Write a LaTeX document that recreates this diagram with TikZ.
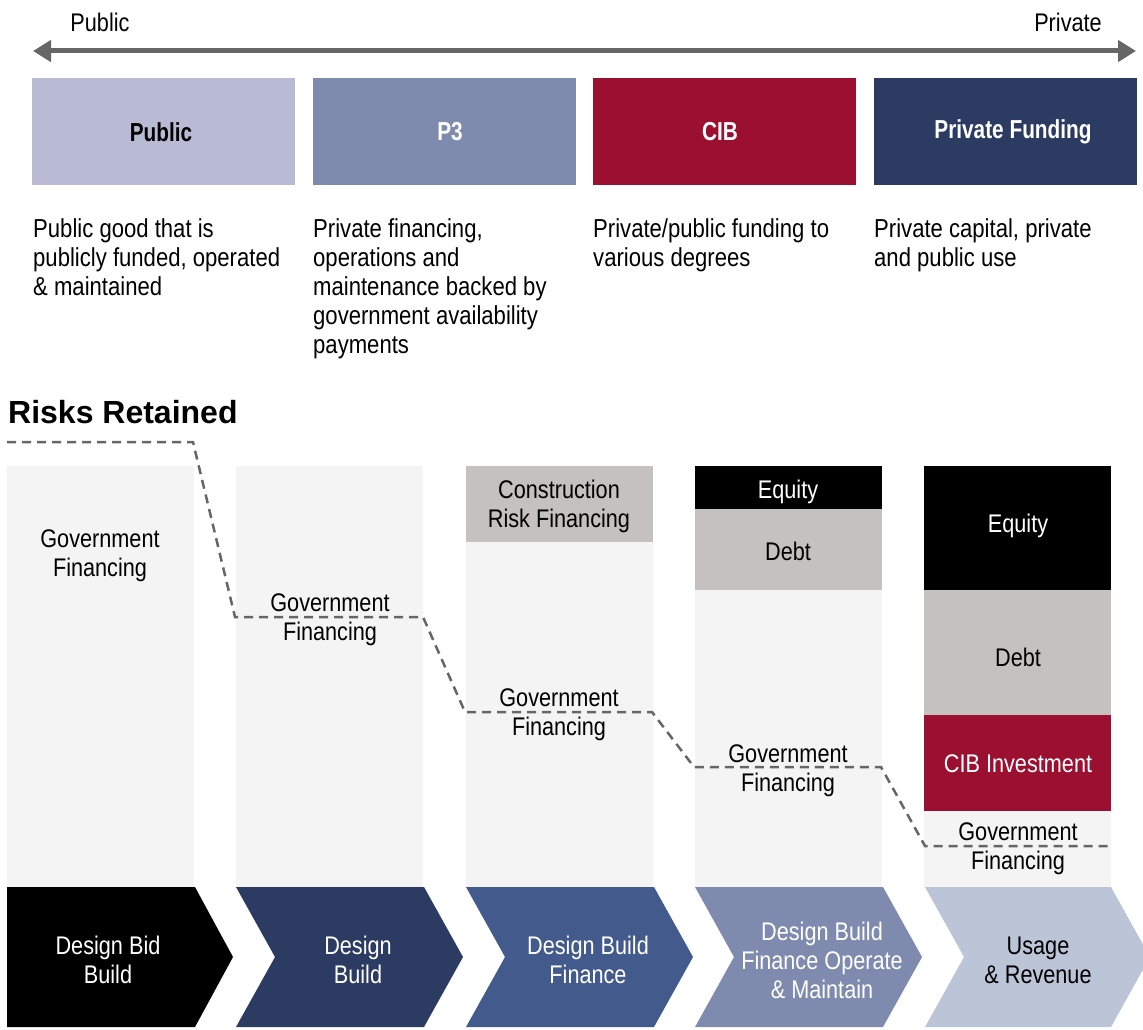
\documentclass[tikz,border=0pt]{standalone}
\usepackage{fontspec}
\setmainfont{Liberation Sans}[FakeStretch=0.85]
\newfontfamily\headfont{Liberation Sans}
\newfontfamily\bcond{Liberation Sans}[FakeStretch=0.8]
\usetikzlibrary{arrows.meta}
\definecolor{cPublic}{HTML}{B9BBD4}
\definecolor{cPthree}{HTML}{7F8BAE}
\definecolor{cCIB}{HTML}{9B1030}
\definecolor{cPriv}{HTML}{2B3B62}
\definecolor{cChevC}{HTML}{435A8C}
\definecolor{cChevE}{HTML}{BCC5D8}
\definecolor{cCol}{HTML}{F4F4F4}
\definecolor{cGrey}{HTML}{C4C1BE}
\definecolor{cLine}{HTML}{666666}
\tikzset{
  txt/.style={inner sep=0pt, align=center, font=\fontsize{25.5}{29}\selectfont},
  desc/.style={inner sep=0pt, align=left, anchor=north west, font=\fontsize{26}{29}\selectfont},
  boxlbl/.style={inner sep=0pt, font=\bcond\fontsize{26}{29}\selectfont\bfseries},
  topbox/.style={draw=none, minimum width=263pt, minimum height=107pt, inner sep=0pt},
  riskline/.style={draw=cLine, line width=2.5pt, dash pattern=on 9pt off 6pt},
}
\begin{document}
\begin{tikzpicture}[x=1pt,y=-1pt]
\useasboundingbox (0,0) rectangle (1143,1030);
% top scale arrow
\coordinate (aL) at (33,51);
\coordinate (aR) at (1136,51);
\draw[cLine, line width=5pt, {Triangle[length=18pt,width=21pt]}-{Triangle[length=18pt,width=21pt]}] (aL) -- (aR);
\node[txt] (lPub) at (100,22) {Public};
\node[txt] (lPriv) at (1068,22) {Private};
% top boxes
\node[topbox, fill=cPublic] (bPub) at (163.5,131.5) {};
\node[topbox, fill=cPthree] (bP3) at (444.5,131.5) {};
\node[topbox, fill=cCIB] (bCIB) at (724.5,131.5) {};
\node[topbox, fill=cPriv] (bPF) at (1005.5,131.5) {};
\node[boxlbl] (tPub) at (161,132) {Public};
\node[boxlbl, text=white] (tP3) at (450,132) {P3};
\node[boxlbl, text=white] (tCIB) at (720,132) {CIB};
\node[boxlbl, text=white] (tPF) at (1013,132) {Private Funding};
% descriptions
\node[desc] (d1) at (33,218) {Public good that is\\publicly funded, operated\\\& maintained};
\node[desc] (d2) at (313,218) {Private financing,\\operations and\\maintenance backed by\\government availability\\payments};
\node[desc] (d3) at (593,218) {Private/public funding to\\various degrees};
\node[desc] (d4) at (874,218) {Private capital, private\\and public use};
% heading
\node[inner sep=0pt, anchor=base west, font=\headfont\fontsize{32}{38}\selectfont\bfseries] (risk) at (8,423) {Risks Retained};
% columns
\fill[cCol] (7,466) rectangle (194,888);
\fill[cCol] (236,466) rectangle (423,888);
\fill[cCol] (466,466) rectangle (653,888);
\fill[cCol] (695,466) rectangle (882,888);
\fill[cCol] (924,466) rectangle (1111,888);
% col 3 block
\fill[cGrey] (466,466) rectangle (653,542);
% col 4 blocks
\fill[black] (695,466) rectangle (882,509);
\fill[cGrey] (695,509) rectangle (882,590);
% col 5 blocks
\fill[black] (924,466) rectangle (1111,590);
\fill[cGrey] (924,590) rectangle (1111,715);
\fill[cCIB] (924,715) rectangle (1111,811);
% dashed risk line
\coordinate (r0) at (7,442);
\coordinate (r1) at (193,442);
\coordinate (r2) at (235,617);
\coordinate (r3) at (423,617);
\coordinate (r4) at (465,712);
\coordinate (r5) at (652,712);
\coordinate (r6) at (694,767);
\coordinate (r7) at (881,767);
\coordinate (r8) at (925,846);
\coordinate (r9) at (1111,846);
\draw[riskline] (r0) -- (r1) -- (r2) -- (r3) -- (r4) -- (r5) -- (r6) -- (r7) -- (r8) -- (r9);
% column labels
\node[txt] (g1) at (100,556) {Government\\Financing};
\node[txt] (g2) at (330,620) {Government\\Financing};
\node[txt] (c3) at (559,506) {Construction\\Risk Financing};
\node[txt] (g3) at (559,715) {Government\\Financing};
\node[txt, text=white] (e4) at (788,492) {Equity};
\node[txt] (db4) at (788,551) {Debt};
\node[txt] (g4) at (788,771) {Government\\Financing};
\node[txt, text=white] (e5) at (1018,526) {Equity};
\node[txt] (db5) at (1018,657) {Debt};
\node[txt, text=white] (cib5) at (1018,764) {CIB Investment};
\node[txt] (g5) at (1018,849) {Government\\Financing};
% chevrons
\fill[black] (7,887) -- (195,887) -- (233,957) -- (195,1027) -- (7,1027) -- cycle;
\fill[cPriv] (236,887) -- (424,887) -- (463,957) -- (424,1027) -- (236,1027) -- (275,957) -- cycle;
\fill[cChevC] (466,887) -- (654,887) -- (693,957) -- (654,1027) -- (466,1027) -- (505,957) -- cycle;
\fill[cPthree] (695,887) -- (883,887) -- (922,957) -- (883,1027) -- (695,1027) -- (734,957) -- cycle;
\fill[cChevE] (925,887) -- (1111,887) -- (1150,957) -- (1111,1027) -- (925,1027) -- (964,957) -- cycle;
\node[txt, text=white] (s1) at (108,960) {Design Bid\\Build};
\node[txt, text=white] (s2) at (358,960) {Design\\Build};
\node[txt, text=white] (s3) at (588,960) {Design Build\\Finance};
\node[txt, text=white] (s4) at (822,960) {Design Build\\Finance Operate\\\& Maintain};
\node[txt] (s5) at (1038,960) {Usage\\\& Revenue};
\end{tikzpicture}
\end{document}
